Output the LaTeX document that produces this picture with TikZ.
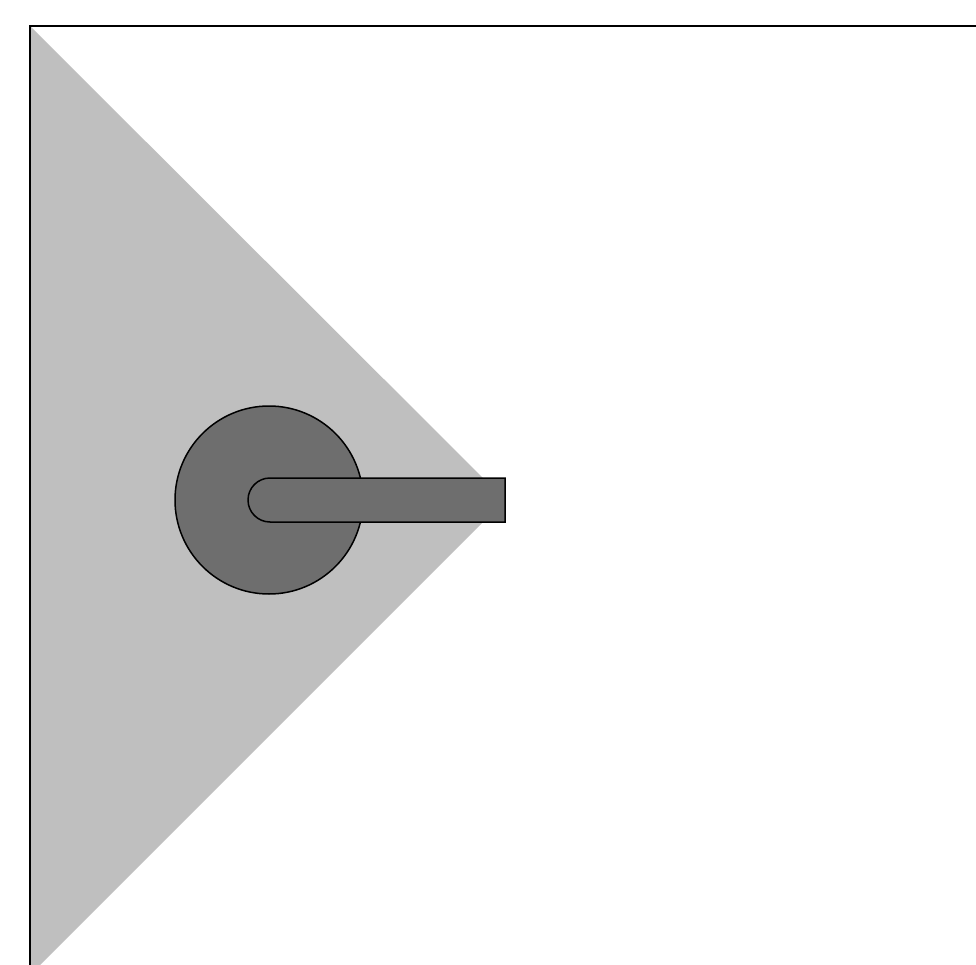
\documentclass[tikz,border=0pt]{standalone}
\begin{document}
\begin{tikzpicture}[x=1pt,y=-1pt,
  tri/.style={fill=black!25},
  darkpart/.style={fill=black!57,draw=black,line width=1.5pt},
  frame/.style={draw=black,line width=2.2pt}]
\useasboundingbox (0,0) rectangle (976,965);
\fill[white] (0,0) rectangle (976,965);
\path[tri] (30,26) -- (505,500) -- (30,975) -- cycle;
\node[darkpart,circle,minimum size=188pt,inner sep=0pt] (disc) at (269,500) {};
\draw[darkpart] (505,478) -- (270,478) arc[start angle=-90,end angle=-270,radius=22] -- (505,522) -- cycle;
\coordinate (c) at (30,26);
\coordinate (tr) at (976,26);
\coordinate (bl) at (30,965);
\draw[frame] (bl) -- (c) -- (tr);
\end{tikzpicture}
\end{document}
